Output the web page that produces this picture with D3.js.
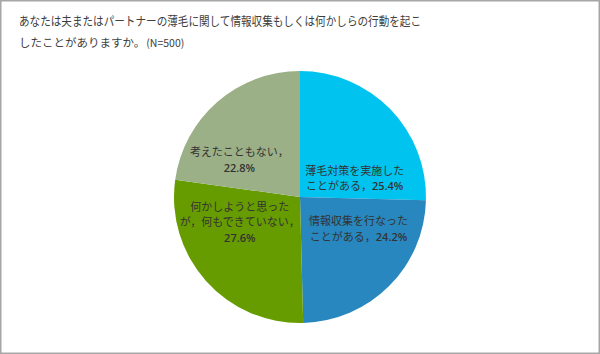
<!DOCTYPE html>
<html>
<head>
<meta charset="utf-8">
<script src="https://cdn.jsdelivr.net/npm/d3@7"></script>
<style>
  html, body { margin: 0; padding: 0; background: #fff; }
  svg { display: block; font-family: "Noto Sans CJK JP", "Noto Sans", sans-serif; }
</style>
</head>
<body>
<div id="chart"></div>
<script>
  // 回答データ（時計回り、上から）
  const categories = [
    ['薄毛対策を実施した', 'ことがある，'],
    ['情報収集を行なった', 'ことがある，'],
    ['何かしようと思った', 'が，何もできていない，'],
    ['考えたこともない，']
  ];
  const values = [25.4, 24.2, 27.6, 22.8];
  const colors = ['#00c3f0', '#2887be', '#679c00', '#9bb086'];
  const titleLines = [
    ['あなたは夫またはパートナーの薄毛に関して情報収集もしくは何かしらの行動を起こ', ''],
    ['したことがありますか。', '(N=500)']
  ];

  const width = 600, height = 354;
  const cx = 300, cy = 197, radius = 126;
  // ラベルの微調整（Excel の最適配置に合わせる）
  const labelNudge = [[-6, 6], [-2, 7], [1, 2], [-1, -10]];

  const svg = d3.select('#chart').append('svg')
    .attr('width', width).attr('height', height);

  // 枠線
  svg.append('rect')
    .attr('x', 0.75).attr('y', 0.75)
    .attr('width', width - 1.5).attr('height', height - 1.5)
    .attr('fill', '#fff').attr('stroke', '#a6a6a6').attr('stroke-width', 1.5);

  // タイトル
  titleLines.forEach((line, i) => {
    const y = 26 + i * 21;
    const main = svg.append('text')
      .attr('class', 'title')
      .attr('x', 19)
      .attr('y', y)
      .attr('font-size', i === 0 ? 12.5 : 11.5)
      .attr('fill', '#404040')
      .text(line[0]);
    if (i === 0) main.attr('textLength', 402).attr('lengthAdjust', 'spacingAndGlyphs');
    if (line[1]) {
      const w = main.node().getComputedTextLength();
      svg.append('text')
        .attr('x', 19 + w + 1)
        .attr('y', y)
        .attr('font-size', 10.5)
        .attr('fill', '#404040')
        .text(line[1]);
    }
  });

  const data = values.map((v, i) => ({ value: v, lines: categories[i], color: colors[i] }));

  const pie = d3.pie().sort(null).value((d) => d.value);
  const arc = d3.arc().innerRadius(0).outerRadius(radius);
  const arcs = pie(data);

  const g = svg.append('g').attr('transform', `translate(${cx},${cy})`);

  g.selectAll('path.slice').data(arcs).enter().append('path')
    .attr('class', 'slice')
    .attr('d', arc)
    .attr('fill', (d) => d.data.color);

  // ラベル位置：中心角を水平方向へ寄せる
  function labelPos(d, i) {
    const mid = (d.startAngle + d.endAngle) / 2;
    const side = mid < Math.PI ? Math.PI / 2 : Math.PI * 1.5;
    const a = side + (mid - side) * 0.5;
    const r = radius * 0.52;
    return [Math.sin(a) * r + labelNudge[i][0], -Math.cos(a) * r + labelNudge[i][1]];
  }

  const lineH = 15.5;
  arcs.forEach((d, i) => {
    const [x, y] = labelPos(d, i);
    const lines = d.data.lines;
    const pct = d.data.value.toFixed(1) + '%';
    const rows = lines.map((t) => [t, '']);
    if (lines.length === 2 && lines[1].length <= 6) {
      rows[1][1] = pct; // 最終行に続けて表示
    } else {
      rows.push(['', pct]);
    }
    const y0 = y - ((rows.length - 1) * lineH) / 2 + 4;
    rows.forEach((row, j) => {
      const t = g.append('text')
        .attr('x', x)
        .attr('y', y0 + j * lineH)
        .attr('text-anchor', 'middle')
        .attr('font-size', 11)
        .attr('fill', '#333');
      if (row[0]) t.append('tspan').text(row[0]);
      if (row[1]) t.append('tspan').attr('font-family', 'Open Sans, sans-serif').attr('font-weight', 600).text(row[1]);
    });
  });
</script>
</body>
</html>
